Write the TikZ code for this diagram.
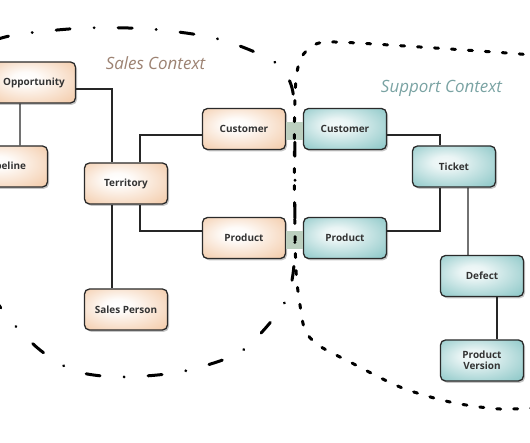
\documentclass[tikz,border=0pt]{standalone}
\usepackage{fontspec}
\setmainfont{Open Sans}
\usetikzlibrary{shadows}

\definecolor{salesfill}{HTML}{F4CFB0}
\definecolor{supportfill}{HTML}{94CBCB}
\definecolor{boxline}{HTML}{2A2A2A}
\definecolor{salestext}{HTML}{9C8272}
\definecolor{supporttext}{HTML}{7AA3A3}
\definecolor{bridgefill}{HTML}{BCCFBF}

\pgfdeclareradialshading{salesglow}{\pgfpoint{-6bp}{6bp}}{color(0bp)=(white); color(8bp)=(white!92!salesfill); color(34bp)=(salesfill); color(50bp)=(salesfill)}
\pgfdeclareradialshading{supportglow}{\pgfpoint{-6bp}{6bp}}{color(0bp)=(white!88!supportfill); color(8bp)=(white!80!supportfill); color(34bp)=(supportfill); color(50bp)=(supportfill)}

\begin{document}
\begin{tikzpicture}[x=10bp,y=10bp]
      \tikzstyle{every node}=[font=\bfseries\fontsize{10}{11.5}\selectfont, text=black!80]
      \tikzstyle{entity}=[draw=boxline, line width=1.3bp, rounded corners=5bp, minimum width=83bp, minimum height=41bp, align=center, drop shadow={shadow xshift=1.5bp, shadow yshift=-1.8bp, opacity=.45}]
      \tikzstyle{sales}=[entity, shade, shading=salesglow]
      \tikzstyle{support}=[entity, shade, shading=supportglow]
      \tikzstyle{rel}=[line width=1.1bp, draw=black!85]
      \tikzstyle{bridge}=[line width=18bp, draw=bridgefill]
      \tikzstyle{ctx}=[font=\itshape\fontsize{17}{20}\selectfont]
      %%% frame of the screenshot
      \useasboundingbox (0,0) rectangle (53,44.3);
      \clip (0,0) rectangle (53,44.3);
      % Sales side
      \node (opp) at (3.4,36.05) [sales] {Opportunity};
      \node (pipe) at (0.6,27.65) [sales] {Pipeline};
      \node (terr) at (12.6,25.95) [sales] {Territory};
      \node (cust) at (24.4,31.4) [sales] {Customer};
      \node (prod) at (24.4,20.5) [sales] {Product};
      \node (sper) at (12.6,13.35) [sales] {Sales Person};
      % Support side
      \node (cust2) at (34.5,31.4) [support] {Customer};
      \node (prod2) at (34.5,20.5) [support] {Product};
      \node (ticket) at (45.4,27.65) [support] {Ticket};
      \node (defect) at (48.2,16.7) [support] {Defect};
      \node (pver) at (48.2,8.25) [support] {Product\\Version};
      % relations
      \draw[rel] ([yshift=-6.5bp]opp.east) -| ([xshift=-14bp]terr.north);
      \draw[rel] ([xshift=-14bp]opp.south) -- ([xshift=14bp]pipe.north);
      \draw[rel] ([xshift=14bp]terr.north) |- ([yshift=-6bp]cust.west);
      \draw[rel] ([xshift=-14bp]terr.south) -- ([xshift=-14bp]sper.north);
      \draw[rel] ([xshift=14bp]terr.south) |- ([yshift=7bp]prod.west);
      \draw[rel] ([yshift=-6bp]cust2.east) -| ([xshift=-14bp]ticket.north);
      \draw[rel] ([xshift=-14bp]ticket.south) |- ([yshift=7bp]prod2.east);
      \draw[rel] ([xshift=14bp]ticket.south) -- ([xshift=-14bp]defect.north);
      \draw[rel] ([xshift=15bp]defect.south) -- ([xshift=15bp]pver.north);
      % shared kernel bridges
      \draw[bridge] ([yshift=-2bp]cust.east) -- ([yshift=-2bp]cust2.west);
      \draw[bridge] ([yshift=-2bp]prod.east) -- ([yshift=-2bp]prod2.west);
      % Sales context boundary
      \draw[line width=3bp, line cap=round, dash pattern=on 14bp off 24bp on 0.1bp off 24bp]
        plot[smooth] coordinates {(-0.5,40.3) (2.0,40.9) (8.5,41.5) (15.0,41.4) (21.0,40.6) (25.0,39.3) (28.0,37.7) (29.2,35.5) (29.45,32.3) (29.5,24.3) (29.4,17.8) (28.6,14.3) (26.2,11.1) (23.5,8.8) (18.0,7.1) (12.0,6.6) (7.5,7.2) (4.0,9.3) (1.0,12.3) (-0.8,14.8)};
      \node at (15.55,38.0) [ctx, text=salestext] {Sales Context};
      % Support context boundary
      \draw[line width=3bp, line cap=round, dash pattern=on 4bp off 13bp]
        plot[smooth] coordinates {(54.0,38.6) (52.0,38.9) (42.0,39.6) (33.5,40.1) (31.4,39.8) (30.1,38.5) (29.6,36.3) (29.45,32.3) (29.45,24.3) (29.6,17.3) (30.0,13.8) (30.5,11.3) (31.8,9.8) (35.0,8.1) (40.0,5.6) (45.0,4.1) (50.0,3.4) (54.5,3.6)};
      \node at (44.15,35.5) [ctx, text=supporttext] {Support Context};
\end{tikzpicture}
\end{document}
